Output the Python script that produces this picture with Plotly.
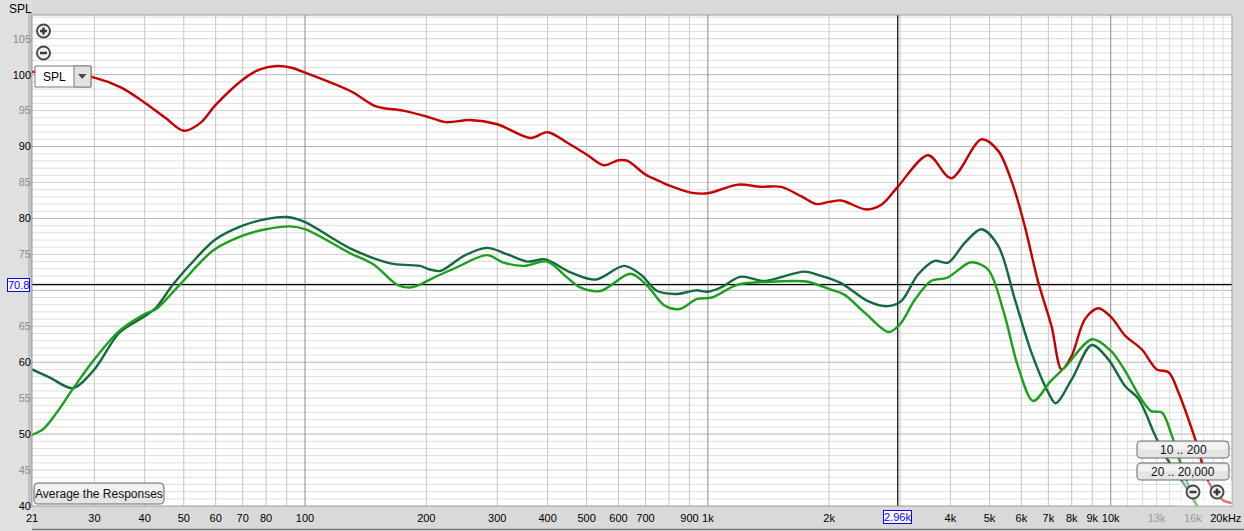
import numpy as np
import plotly.graph_objects as go

# ---------------- data ----------------
red_f = [21, 23, 26, 30, 35, 40, 45, 50, 55, 60, 70, 77, 85, 92, 100, 130, 150, 175, 200, 223, 257,
         300, 363, 400, 449, 500, 551, 600, 632, 700, 764, 800, 907, 1000, 1188, 1355, 1520, 1703,
         1857, 2000, 2144, 2473, 2694, 2960, 3521, 4018, 4775, 5256, 5728, 6120, 6610, 7130, 7550,
         8000, 8630, 9320, 10050, 10850, 11940, 13010, 13920, 14730, 16210, 17500, 19000, 20000]
red_db = [100.4, 100.3, 100.1, 99.6, 98.2, 96.1, 94.0, 92.2, 93.3, 95.8, 99.3, 100.7, 101.2, 101.0,
          100.3, 97.7, 95.6, 95.0, 94.2, 93.4, 93.7, 93.1, 91.2, 92.0, 90.5, 88.9, 87.4, 88.1, 88.0,
          86.1, 85.1, 84.6, 83.6, 83.5, 84.7, 84.4, 84.4, 83.1, 82.0, 82.3, 82.5, 81.25, 81.9, 84.4,
          88.8, 85.6, 91.0, 89.4, 84.5, 78.9, 71.1, 65.0, 59.0, 60.9, 66.0, 67.5, 66.2, 63.7, 61.8,
          59.0, 58.6, 55.8, 49.3, 43.3, 40.8, 40.4]

dkg_f = [21, 23.2, 26.5, 30, 34.6, 40, 42.7, 47, 53.7, 60, 70, 80, 90, 100, 115, 131, 163, 182, 193,
         204, 217, 248, 283, 318, 356, 395, 456, 527, 619, 681, 749, 841, 933, 1000, 1077, 1208, 1380,
         1736, 1911, 2121, 2226, 2496, 2799, 3020, 3323, 3655, 3946, 4342, 4775, 5256, 5781, 6360,
         6998, 7300, 8000, 8970, 9865, 10850, 11720, 12890, 13650, 15300, 16500, 18000, 20000]
dkg_db = [59.0, 57.9, 56.4, 59.0, 64.1, 66.4, 67.6, 70.8, 74.5, 77.1, 79.0, 79.9, 80.2, 79.5, 77.5,
          75.7, 73.75, 73.5, 73.4, 72.9, 72.7, 74.8, 75.9, 75.0, 74.0, 74.3, 72.5, 71.5, 73.4, 72.2,
          69.9, 69.5, 70.0, 69.8, 70.4, 71.9, 71.3, 72.6, 72.0, 71.1, 70.4, 68.5, 67.8, 68.5, 72.2,
          74.1, 73.85, 76.6, 78.5, 76.2, 68.75, 61.3, 55.8, 54.3, 57.6, 62.4, 60.4, 56.7, 54.9, 49.8,
          47.0, 42.8, 39.8, 36.5, 34.0]

grn_f = [21, 22.4, 24.2, 26.5, 30, 34.6, 40, 42.7, 48.9, 59, 70, 80, 91.8, 100, 129, 148, 169, 182,
         193, 204, 234, 283, 311, 350, 399, 447, 482, 541, 643, 708, 780, 850, 941, 1023, 1186, 1426,
         1636, 1771, 2020, 2180, 2450, 2810, 3000, 3270, 3580, 3930, 4500, 4960, 5430, 5880, 6420,
         7100, 7700, 9000, 10000, 10800, 11900, 12600, 13400, 14100, 14800, 16100, 17500, 20000]
grn_db = [49.9, 50.7, 53.0, 56.25, 60.4, 64.35, 66.7, 67.4, 70.8, 75.5, 77.6, 78.5, 78.9, 78.5, 75.2,
          73.6, 70.8, 70.4, 70.8, 71.5, 73.0, 74.9, 73.85, 73.4, 74.0, 71.8, 70.4, 69.9, 72.3, 70.6,
          67.9, 67.4, 68.8, 69.0, 70.8, 71.2, 71.3, 71.2, 70.1, 69.4, 66.9, 64.2, 65.3, 68.75, 71.3,
          71.75, 73.9, 72.9, 66.9, 59.5, 54.6, 57.4, 59.3, 63.2, 61.6, 59.0, 54.9, 53.2, 53.0, 50.2,
          46.5, 40.8, 37.0, 33.0]

x_tick_vals = [21, 30, 40, 50, 60, 70, 80, 100, 200, 300, 400, 500, 600, 700, 900, 1000, 2000,
               4000, 5000, 6000, 7000, 8000, 9000, 10000, 13000, 16000, 19300]
x_tick_text = ["21", "30", "40", "50", "60", "70", "80", "100", "200", "300", "400", "500", "600",
               "700", "900", "1k", "2k", "4k", "5k", "6k", "7k", "8k", "9k", "10k",
               "<span style='color:#9a9a9a'>13k</span>", "<span style='color:#9a9a9a'>16k</span>",
               "20kHz"]
# 70 is hidden behind the cursor read-out box in the original
y_tick_vals = [40, 45, 50, 55, 60, 65, 75, 80, 85, 90, 95, 100, 105]
y_tick_text = [str(v) if v % 10 == 0 else "<span style='color:#8c8c8c'>%d</span>" % v
               for v in y_tick_vals]

cursor_db = 70.8
cursor_f = 2960

# ---------------- geometry helpers (pixel -> paper) ----------------
W, H = 1244, 531
L, R, T, B = 32, 12, 15, 25
PW, PH = W - L - R, H - T - B


def X(px):
    return (px - L) / PW


def Y(py):
    return (H - B - py) / PH


FONT = "Liberation Sans, Arial, sans-serif"

fig = go.Figure()
fig.add_trace(go.Scatter(x=red_f, y=red_db, mode="lines", line=dict(color="#c40000", width=2.4,
                                                                       shape="spline", smoothing=0.9),
                         hoverinfo="skip", name="red"))
fig.add_trace(go.Scatter(x=dkg_f, y=dkg_db, mode="lines", line=dict(color="#136a3c", width=2.4,
                                                                       shape="spline", smoothing=0.9),
                         hoverinfo="skip", name="dkg"))
fig.add_trace(go.Scatter(x=grn_f, y=grn_db, mode="lines", line=dict(color="#1aa01a", width=2.4,
                                                                       shape="spline", smoothing=0.9),
                         hoverinfo="skip", name="grn"))

shapes = []
# horizontal grid
for v in range(41, 109):
    if v % 10 == 0:
        c = "#b4b4b4"
    elif v % 5 == 0:
        c = "#d2d2d2"
    else:
        c = "#dedede"
    shapes.append(dict(type="line", xref="paper", x0=0, x1=1, yref="y", y0=v, y1=v,
                       line=dict(color=c, width=1), layer="below"))
# vertical grid
vlines = []
for dec in (10, 100, 1000):
    for m in range(2, 10):
        f = m * dec
        if f > 21:
            vlines.append((f, "#c6c6c6"))
for f in (100, 1000, 10000):
    vlines.append((f, "#8a8a8a"))
for m in range(11, 20):
    vlines.append((m * 1000, "#dcdcdc"))
for f, c in vlines:
    shapes.append(dict(type="line", yref="paper", y0=0, y1=1, xref="x", x0=f, x1=f,
                       line=dict(color=c, width=1), layer="below"))
# cursors
shapes.append(dict(type="line", xref="paper", x0=0, x1=1, yref="y", y0=cursor_db, y1=cursor_db,
                   line=dict(color="#000000", width=1.2), layer="below"))
shapes.append(dict(type="line", yref="paper", y0=0, y1=1, xref="x", x0=cursor_f, x1=cursor_f,
                   line=dict(color="#000000", width=1.2), layer="below"))

# left shadow strip and bottom border
shapes.append(dict(type="rect", xref="paper", yref="paper", x0=X(0), x1=X(32), y0=Y(531), y1=Y(0),
                   fillcolor="#e0e0e0", line=dict(width=0), layer="below"))
shapes.append(dict(type="rect", xref="paper", yref="paper", x0=X(28), x1=X(32), y0=Y(508), y1=Y(13),
                   fillcolor="#c2c2c2", line=dict(width=0), layer="below"))
shapes.append(dict(type="line", xref="paper", yref="paper", x0=X(32), x1=X(1244), y0=Y(529.5), y1=Y(529.5),
                   line=dict(color="#7a7a7a", width=1.5)))
# plot border
shapes.append(dict(type="rect", xref="paper", yref="paper", x0=0, x1=1, y0=0, y1=1,
                   line=dict(color="#9a9a9a", width=1)))

# fade overlay bottom right
shapes.append(dict(type="rect", xref="paper", yref="paper", x0=X(1180), x1=X(1232), y0=Y(506), y1=Y(481),
                   fillcolor="rgba(255,255,255,0.45)", line=dict(width=0), layer="above"))


def rrect(x0, y0, x1, y1, r):
    def p(a, b):
        return "%.5f,%.5f" % (X(a), Y(b))
    d = ("M " + p(x0 + r, y0) + " L " + p(x1 - r, y0) + " Q " + p(x1, y0) + " " + p(x1, y0 + r) +
         " L " + p(x1, y1 - r) + " Q " + p(x1, y1) + " " + p(x1 - r, y1) +
         " L " + p(x0 + r, y1) + " Q " + p(x0, y1) + " " + p(x0, y1 - r) +
         " L " + p(x0, y0 + r) + " Q " + p(x0, y0) + " " + p(x0 + r, y0) + " Z")
    return d


annotations = []


def button(x0, y0, x1, y1, text):
    shapes.append(dict(type="path", xref="paper", yref="paper", path=rrect(x0, y0, x1, y1, 4),
                       fillcolor="#e4e4e4", line=dict(color="#6a6a6a", width=1), layer="above"))
    shapes.append(dict(type="path", xref="paper", yref="paper",
                       path=rrect(x0 + 1.5, y0 + 1.5, x1 - 1.5, (y0 + y1) / 2, 3),
                       fillcolor="#f2f2f2", line=dict(width=0), layer="above"))
    annotations.append(dict(xref="paper", yref="paper", x=X((x0 + x1) / 2), y=Y((y0 + y1) / 2 + 0.5),
                            text=text, showarrow=False, xanchor="center", yanchor="middle",
                            font=dict(family=FONT, size=12, color="#111111")))


button(34, 483, 164, 504, "Average the Responses")
button(1137, 441, 1229, 458, "10 .. 200")
button(1137, 463, 1229, 480, "20 .. 20,000")


def zoom_icon(cx, cy, plus):
    r = 6.5
    shapes.append(dict(type="circle", xref="paper", yref="paper", x0=X(cx - r), x1=X(cx + r),
                       y0=Y(cy + r), y1=Y(cy - r), fillcolor="#f0f0f0",
                       line=dict(color="#4a4a4a", width=2), layer="above"))
    shapes.append(dict(type="line", xref="paper", yref="paper", x0=X(cx - 3.5), x1=X(cx + 3.5),
                       y0=Y(cy), y1=Y(cy), line=dict(color="#3a3a3a", width=2.5), layer="above"))
    if plus:
        shapes.append(dict(type="line", xref="paper", yref="paper", x0=X(cx), x1=X(cx),
                           y0=Y(cy - 3.5), y1=Y(cy + 3.5), line=dict(color="#3a3a3a", width=2.5),
                           layer="above"))


zoom_icon(43.5, 31, True)
zoom_icon(43.5, 53, False)
zoom_icon(1193, 492, False)
zoom_icon(1217, 492, True)

# SPL dropdown
shapes.append(dict(type="rect", xref="paper", yref="paper", x0=X(35), x1=X(91), y0=Y(87), y1=Y(66),
                   fillcolor="#ffffff", line=dict(color="#7a7a7a", width=1), layer="above"))
shapes.append(dict(type="rect", xref="paper", yref="paper", x0=X(74), x1=X(91), y0=Y(87), y1=Y(66),
                   fillcolor="#e2e2e2", line=dict(color="#7a7a7a", width=1), layer="above"))
shapes.append(dict(type="path", xref="paper", yref="paper",
                   path="M %.5f,%.5f L %.5f,%.5f L %.5f,%.5f Z" % (X(78), Y(74), X(86.5), Y(74), X(82.25), Y(79)),
                   fillcolor="#4a4a4a", line=dict(width=0), layer="above"))
annotations.append(dict(xref="paper", yref="paper", x=X(41), y=Y(77), text="SPL", showarrow=False,
                        xanchor="left", yanchor="middle", font=dict(family=FONT, size=12, color="#000")))

# axis title
annotations.append(dict(xref="paper", yref="paper", x=X(7), y=Y(9), text="SPL", showarrow=False,
                        xanchor="left", yanchor="middle", font=dict(family=FONT, size=12, color="#000")))

# cursor value boxes
annotations.append(dict(xref="paper", yref="y", x=X(18), y=cursor_db, text="70.8", showarrow=False,
                        xanchor="center", yanchor="middle", bgcolor="#ffffff", bordercolor="#0000ff",
                        borderwidth=1, borderpad=0, font=dict(family=FONT, size=11, color="#0000ff")))
annotations.append(dict(xref="x", yref="paper", x=np.log10(cursor_f), y=Y(517), text="2.96k",
                        showarrow=False, xanchor="center", yanchor="middle", bgcolor="#ffffff",
                        bordercolor="#0000ff", borderwidth=1, borderpad=0,
                        font=dict(family=FONT, size=11, color="#0000ff")))

fig.update_layout(
    width=W, height=H,
    margin=dict(l=L, r=R, t=T, b=B, autoexpand=False),
    paper_bgcolor="#d9d9d9",
    plot_bgcolor="#ffffff",
    showlegend=False,
    shapes=shapes,
    annotations=annotations,
    hovermode=False,
    font=dict(family=FONT, size=11, color="#000000"),
)
fig.update_xaxes(type="log", range=[np.log10(21), np.log10(20000)], showgrid=False, zeroline=False,
                 tickmode="array", tickvals=x_tick_vals, ticktext=x_tick_text, ticks="",
                 tickfont=dict(family=FONT, size=11, color="#000"), showline=False, fixedrange=True,
                 automargin=False, ticklabelstandoff=4, ticklabeloverflow="allow")
fig.update_yaxes(range=[40, 108.3], showgrid=False, zeroline=False, tickmode="array",
                 tickvals=y_tick_vals, ticktext=y_tick_text, ticks="",
                 tickfont=dict(family=FONT, size=11, color="#000"), showline=False, fixedrange=True,
                 automargin=False)

fig.write_html("out.html", config={"displayModeBar": False, "staticPlot": True},
               post_script="document.body.style.margin='0';document.body.style.padding='0';"
                           "document.body.style.background='#d9d9d9';"
                           "document.body.style.overflow='hidden';")
